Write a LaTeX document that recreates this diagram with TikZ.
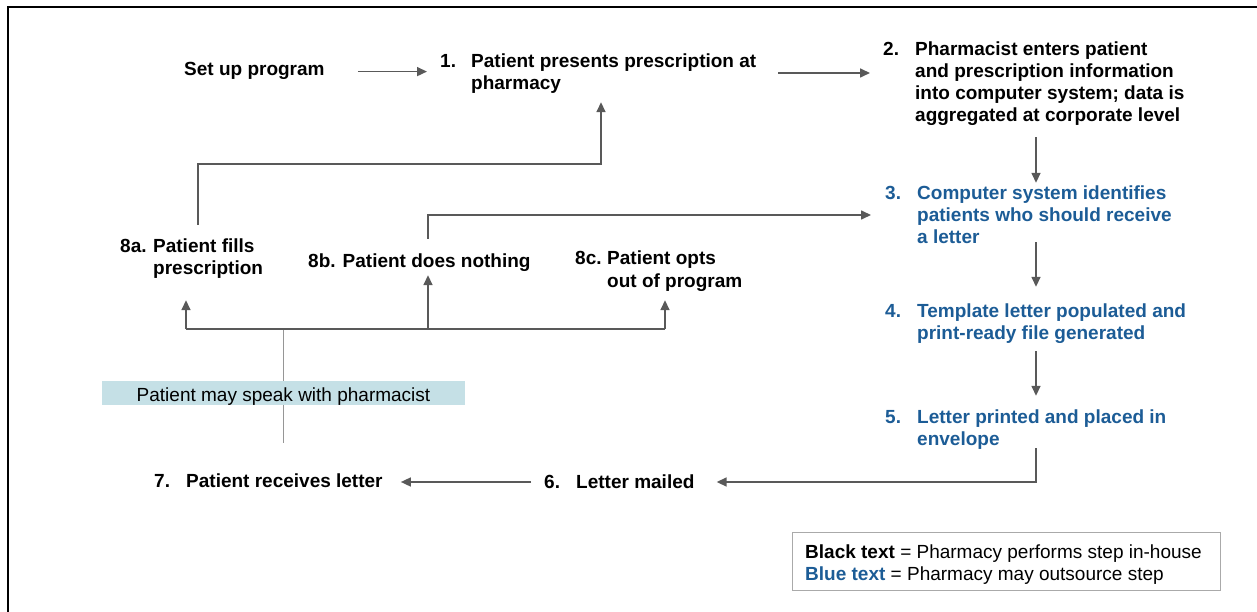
\documentclass[tikz,border=0pt]{standalone}
\usepackage{fontspec}
\setmainfont{Liberation Sans}
\usetikzlibrary{arrows.meta,calc}
\definecolor{stepblue}{RGB}{28,92,150}
\definecolor{arrowgray}{RGB}{89,89,89}
\definecolor{speakfill}{RGB}{197,224,230}
\definecolor{legendgray}{RGB}{170,170,170}
\definecolor{thingray}{RGB}{150,150,150}
\newcommand{\numtab}[2][32pt]{\begin{tabular}[t]{@{}p{#1}@{}l@{}}#2\end{tabular}}
\newcommand{\onetab}[1]{\begin{tabular}[t]{@{}l@{}}#1\end{tabular}}
\tikzset{
  stepnode/.style={anchor=base west, inner sep=0pt, font=\fontsize{19}{22}\selectfont\bfseries, text=black},
  bluestep/.style={stepnode, text=stepblue},
  arr/.style={draw=arrowgray, line width=1.6pt, -{Triangle[length=10pt,width=9pt]}},
  link/.style={draw=arrowgray, line width=1.6pt},
  thinlink/.style={draw=thingray, line width=1pt},
  speakbox/.style={fill=speakfill, inner sep=0pt, minimum width=363pt, minimum height=24pt, text height=17pt, text depth=1pt, font=\fontsize{19}{22}\selectfont},
  legendbox/.style={draw=legendgray, line width=1pt, anchor=north west, inner sep=0pt, minimum width=428pt, minimum height=58pt},
  legendtext/.style={anchor=base west, inner sep=0pt, font=\fontsize{19}{22}\selectfont}
}
\begin{document}
\begin{tikzpicture}[x=1pt,y=-1pt]
\useasboundingbox (0,0) rectangle (1257,612);
% frame
\draw[line width=2pt, black] (8,612) -- (8,7) -- (1257,7);

% steps
\node[stepnode] (setup) at (184,76) {\onetab{Set up program}};
\node[stepnode] (s1) at (440,68) {\numtab[31pt]{1.&Patient presents prescription at\\&pharmacy}};
\node[stepnode] (s2) at (883,56) {\numtab{2.&Pharmacist enters patient\\&and prescription information\\&into computer system; data is\\&aggregated at corporate level}};
\node[bluestep] (s3) at (885,200) {\numtab{3.&Computer system identifies\\&patients who should receive\\&a letter}};
\node[bluestep] (s4) at (885,317) {\numtab{4.&Template letter populated and\\&print-ready file generated}};
\node[bluestep] (s5) at (885,423) {\numtab{5.&Letter printed and placed in\\&envelope}};
\node[stepnode] (s6) at (544,488) {\numtab{6.&Letter mailed}};
\node[stepnode] (s7) at (154,487) {\numtab{7.&Patient receives letter}};
\node[stepnode] (s8a) at (120,252) {\numtab[33pt]{8a.&Patient fills\\&prescription}};
\node[stepnode] (s8b) at (308,267) {\onetab{8b. Patient does nothing}};
\node[stepnode] (s8c) at (575,265) {\numtab{8c.&Patient opts\\&out of program}};

% helper coordinates
\coordinate (spine) at (1036,0);
\coordinate (hub) at (283,329);
\coordinate (bA) at (186,329);
\coordinate (bB) at (428,329);
\coordinate (bC) at (665,329);
\coordinate (kA) at (198,164);
\coordinate (kA2) at (601,164);
\coordinate (kB) at (428,215);

% main flow
\draw[arr] ([xshift=33pt]setup.east) -- ([xshift=-13pt]setup.east -| s1.west);
\draw[arr] ([xshift=22pt,yshift=1.6pt]s1.east) -- ([xshift=-13pt,yshift=1.6pt]s1.east -| s2.west);
\draw[arr] ([yshift=-8.4pt]s2.south -| spine) -- ([yshift=1.6pt]s3.north -| spine);
\draw[arr] ([yshift=8.6pt]s3.south -| spine) -- ([yshift=14.6pt]s4.north -| spine);
\draw[arr] ([yshift=-5.4pt]s4.south -| spine) -- ([yshift=11.6pt]s5.north -| spine);
\draw[arr] ([yshift=3.6pt]s5.south -| spine) |- ([xshift=22pt,yshift=1.6pt]s6.east);
\draw[arr] ([xshift=-13pt,yshift=1.6pt]s6.west) -- ([xshift=18pt,yshift=1.6pt]s6.west -| s7.east);

% patient may speak with pharmacist
\draw[thinlink] ([yshift=28.6pt]s7.north -| hub) -- (hub);
\node[speakbox] (speak) at (283.5,393) {Patient may speak with pharmacist};

% branches
\draw[link] (bA) -- (bC);
\draw[arr] (bA) -- ([yshift=-19.4pt]bA |- s8a.south);
\draw[arr] (bB) -- ([yshift=-1.4pt]bB |- s8b.south);
\draw[arr] (bC) -- ([yshift=-6.4pt]bC |- s8c.south);

% loops back
\draw[arr] ([yshift=11.6pt]s8a.north -| kA) -- (kA) -- (kA2) -- ([yshift=-5.4pt]s1.south -| kA2);
\draw[arr] ([yshift=12.6pt]s8b.north -| kB) -- (kB) -- ([xshift=-14pt]kB -| s3.west);

% legend
\node[legendbox] (legend) at (792,532) {};
\node[legendtext] (legendtxt) at (805,558) {\onetab{\textbf{Black text} = Pharmacy performs step in-house\\\textcolor{stepblue}{\textbf{Blue text}} = Pharmacy may outsource step}};
\end{tikzpicture}
\end{document}
